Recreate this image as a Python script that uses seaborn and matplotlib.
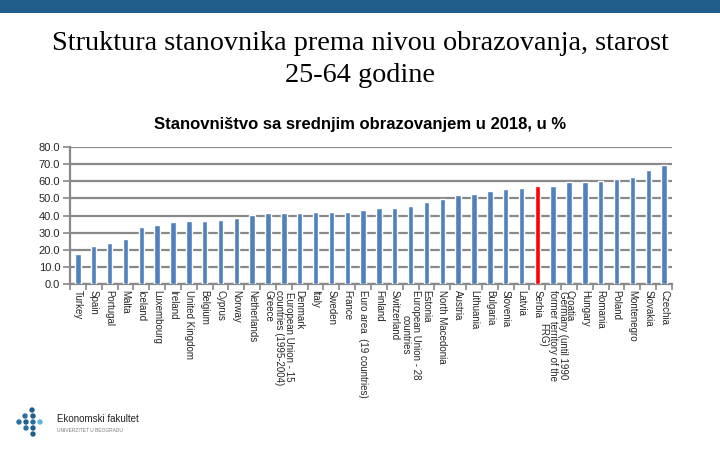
import matplotlib
matplotlib.use("Agg")
import matplotlib.pyplot as plt
from matplotlib.patches import Rectangle, Ellipse
from matplotlib.ticker import FixedLocator, FormatStrFormatter
import seaborn as sns
import pandas as pd

countries = [
    "Turkey", "Spain", "Portugal", "Malta", "Iceland", "Luxembourg", "Ireland",
    "United Kingdom", "Belgium", "Cyprus", "Norway", "Netherlands", "Greece",
    "European Union - 15\ncountries (1995-2004)", "Denmark", "Italy", "Sweden",
    "France", "Euro area  (19 countries)", "Finland", "Switzerland",
    "European Union - 28\ncountries", "Estonia", "North Macedonia", "Austria",
    "Lithuania", "Bulgaria", "Slovenia", "Latvia", "Serbia",
    "Germany (until 1990\nformer territory of the\nFRG)", "Croatia", "Hungary",
    "Romania", "Poland", "Montenegro", "Slovakia", "Czechia",
]
values = [
    17.5, 22.3, 24.0, 26.4, 33.5, 34.3, 36.1, 36.5, 37.0, 37.6, 38.8, 40.2,
    41.2, 41.2, 41.2, 42.0, 42.0, 42.0, 43.2, 44.1, 44.1, 45.3, 47.7, 49.7,
    51.8, 52.4, 54.2, 55.4, 56.0, 57.1, 57.1, 59.7, 59.7, 60.3, 61.3, 62.5,
    66.6, 69.6,
]
highlight = "Serbia"
y_ticks = [0, 10, 20, 30, 40, 50, 60, 70, 80]

title_lines = ["Struktura stanovnika prema nivou obrazovanja, starost",
               "25-64 godine"]
subtitle = "Stanovništvo sa srednjim obrazovanjem u 2018, u %"

BLUE = "#4f81bd"
RED = "#ff0000"
GRID = "#898989"

sns.set_style("white")
plt.rcParams["font.family"] = ["Liberation Sans", "DejaVu Sans"]

df = pd.DataFrame({"country": countries, "value": values})
palette = {c: (RED if c == highlight else BLUE) for c in countries}

fig = plt.figure(figsize=(7.2, 4.5), dpi=100)
ax = fig.add_axes([70 / 720, 1 - 284 / 450, 602 / 720, 137 / 450])

sns.barplot(data=df, x="country", y="value", hue="country", palette=palette,
            legend=False, width=0.34, ax=ax, saturation=1)
for p in ax.patches:
    p.set_zorder(3)

ax.set_ylim(0, 80)
ax.set_xlim(-0.5, len(countries) - 0.5)
ax.yaxis.set_major_locator(FixedLocator(y_ticks))
ax.yaxis.set_major_formatter(FormatStrFormatter("%.1f"))
ax.grid(axis="y", color=GRID, linewidth=1.6, zorder=0)
ax.set_axisbelow(True)
ax.set_xlabel("")
ax.set_ylabel("")

for side in ["top", "right"]:
    ax.spines[side].set_visible(False)
for side in ["left", "bottom"]:
    ax.spines[side].set_color(GRID)
    ax.spines[side].set_linewidth(1.6)

ax.tick_params(axis="y", which="major", length=5, width=1.2, color=GRID,
               labelsize=8, pad=2, left=True)
ax.set_xticks(range(len(countries)))
ax.set_xticklabels(countries, rotation=-90, ha="center", va="top",
                   multialignment="center", fontsize=7, linespacing=1.0)
ax.tick_params(axis="x", which="major", length=0, pad=4)
ax.set_xticks([i + 0.5 for i in range(-1, len(countries))], minor=True)
ax.tick_params(axis="x", which="minor", length=4, width=1.2, color=GRID,
               bottom=True)

# top band
fig.add_artist(Rectangle((0, 1 - 13 / 450), 1, 13 / 450, transform=fig.transFigure,
                         facecolor="#215d8b", edgecolor="none"))

fig.text(0.5, 1 - 43 / 450, title_lines[0], ha="center", va="center",
         fontsize=20.3, family=["Liberation Serif", "DejaVu Serif"],
         color="black")
fig.text(0.5, 1 - 75 / 450, title_lines[1], ha="center", va="center",
         fontsize=20.3, family=["Liberation Serif", "DejaVu Serif"],
         color="black")
fig.text(0.5, 1 - 124 / 450, subtitle, ha="center", va="center",
         fontsize=12, fontweight="bold", color="black")

# logo
dots = [(32, 410, "#1f5f8b"), (25, 416, "#2a6f9e"), (33, 416, "#1f5f8b"),
        (19, 422, "#2a6f9e"), (26, 422, "#1f5f8b"), (33, 422, "#2a6f9e"),
        (40, 422, "#5cb6df"), (26, 428, "#2a6f9e"), (33, 428, "#1f5f8b"),
        (33, 434, "#1f5f8b")]
r = 2.7
for (px, py, c) in dots:
    fig.add_artist(Ellipse((px / 720, 1 - py / 450), 2 * r / 720, 2 * r / 450,
                           transform=fig.transFigure, facecolor=c,
                           edgecolor="none"))
fig.text(57 / 720, 1 - 419 / 450, "Ekonomski fakultet", fontsize=7,
         ha="left", va="center", color="#222222")
fig.text(57 / 720, 1 - 430 / 450, "UNIVERZITET U BEOGRADU", fontsize=3.5,
         ha="left", va="center", color="#777777")

fig.savefig("out.png", dpi=100)
